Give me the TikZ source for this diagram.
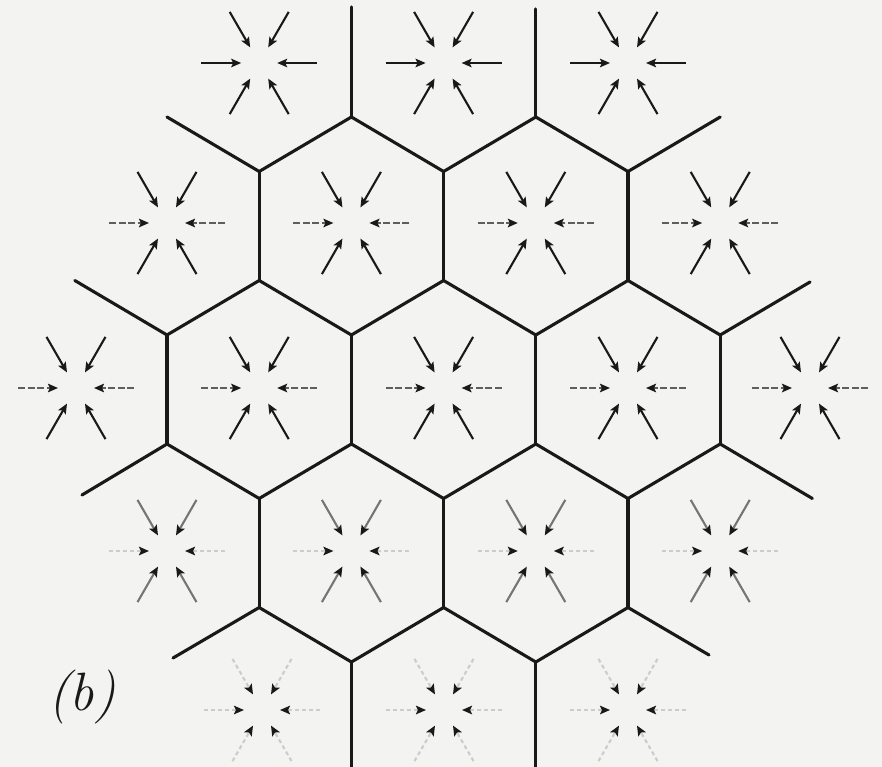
\documentclass[tikz,border=0pt]{standalone}
\usetikzlibrary{arrows.meta,calc}
\definecolor{paper}{RGB}{243,243,242}
\definecolor{ink}{RGB}{25,25,25}
\tikzset{
  wall/.style={line width=3.1pt, draw=ink, line cap=round, line join=miter},
  flow/.style={line width=2.1pt, draw=ink, -{Stealth[length=10pt,width=8.5pt,inset=2pt,color=ink]}},
  flowdash/.style={flow, draw=ink!70, dash pattern=on 7pt off 2.5pt},
  flowfaint/.style={flow, draw=ink!60},
  flowfainter/.style={flow, draw=ink!22, dash pattern=on 4pt off 3pt},
  labelstyle/.style={font=\fontsize{54}{54}\selectfont\itshape, text=ink, inner sep=0pt},
}
\newcommand\sinkcell[3]{%
  \foreach \a in {0,180} {\draw[#2] ($(#1)+(\a:58)$) -- ($(#1)+(\a:18)$);}
  \foreach \a in {60,120,240,300} {\draw[#3] ($(#1)+(\a:59)$) -- ($(#1)+(\a:18)$);}
}
\begin{document}
\begin{tikzpicture}[x=1pt,y=-1pt]
\fill[paper] (0,0) rectangle (882,767);
\useasboundingbox (0,0) rectangle (882,767);

% cell walls
\draw[wall] (351.4,7) -- (351.4,117);
\draw[wall] (535.8,9) -- (535.8,117);
\draw[wall] (167,117) -- (259.2,171.5) -- (351.4,117) -- (443.6,171.5) -- (535.8,117) -- (628,171.5) -- (720.2,117);
\draw[wall] (259.2,171.5) -- (259.2,280.5);
\draw[wall] (443.6,171.5) -- (443.6,280.5);
\draw[wall] (628,171.5) -- (628,280.5);
\draw[wall] (74.8,280.5) -- (167,335) -- (259.2,280.5) -- (351.4,335) -- (443.6,280.5) -- (535.8,335) -- (628,280.5) -- (720.2,335) -- (810,282);
\draw[wall] (167,335) -- (167,444);
\draw[wall] (351.4,335) -- (351.4,444);
\draw[wall] (535.8,335) -- (535.8,444);
\draw[wall] (720.2,335) -- (720.2,444);
\draw[wall] (82,495) -- (167,444) -- (259.2,498.5) -- (351.4,444) -- (443.6,498.5) -- (535.8,444) -- (628,498.5) -- (720.2,444) -- (812.4,498.5);
\draw[wall] (259.2,498.5) -- (259.2,607.5);
\draw[wall] (443.6,498.5) -- (443.6,607.5);
\draw[wall] (628,498.5) -- (628,607.5);
\draw[wall] (173,658) -- (259.2,607.5) -- (351.4,662) -- (443.6,607.5) -- (535.8,662) -- (628,607.5) -- (709,655);
\draw[wall] (351.4,662) -- (351.4,767);
\draw[wall] (535.8,662) -- (535.8,767);

% cell centres
\coordinate (a1) at (259.2,63);
\coordinate (a2) at (443.6,63);
\coordinate (a3) at (628,63);
\coordinate (b1) at (167,223);
\coordinate (b2) at (351.4,223);
\coordinate (b3) at (535.8,223);
\coordinate (b4) at (720.2,223);
\coordinate (c1) at (76,388);
\coordinate (c2) at (259.2,388);
\coordinate (c3) at (443.6,388);
\coordinate (c4) at (628,388);
\coordinate (c5) at (810,388);
\coordinate (d1) at (167,551);
\coordinate (d2) at (351.4,551);
\coordinate (d3) at (535.8,551);
\coordinate (d4) at (720.2,551);
\coordinate (e1) at (262,710);
\coordinate (e2) at (444,710);
\coordinate (e3) at (628,710);

% inward arrows
\foreach \c in {a1,a2,a3} {\sinkcell{\c}{flow}{flow}}
\foreach \c in {b1,b2,b3,b4} {\sinkcell{\c}{flowdash}{flow}}
\foreach \c in {c1,c2,c3,c4,c5} {\sinkcell{\c}{flowdash}{flow}}
\foreach \c in {d1,d2,d3,d4} {\sinkcell{\c}{flowfainter}{flowfaint}}
\foreach \c in {e1,e2,e3} {\sinkcell{\c}{flowfainter}{flowfainter}}

% label
\node[labelstyle] (lab) at (82,697) {(b)};
\end{tikzpicture}
\end{document}
